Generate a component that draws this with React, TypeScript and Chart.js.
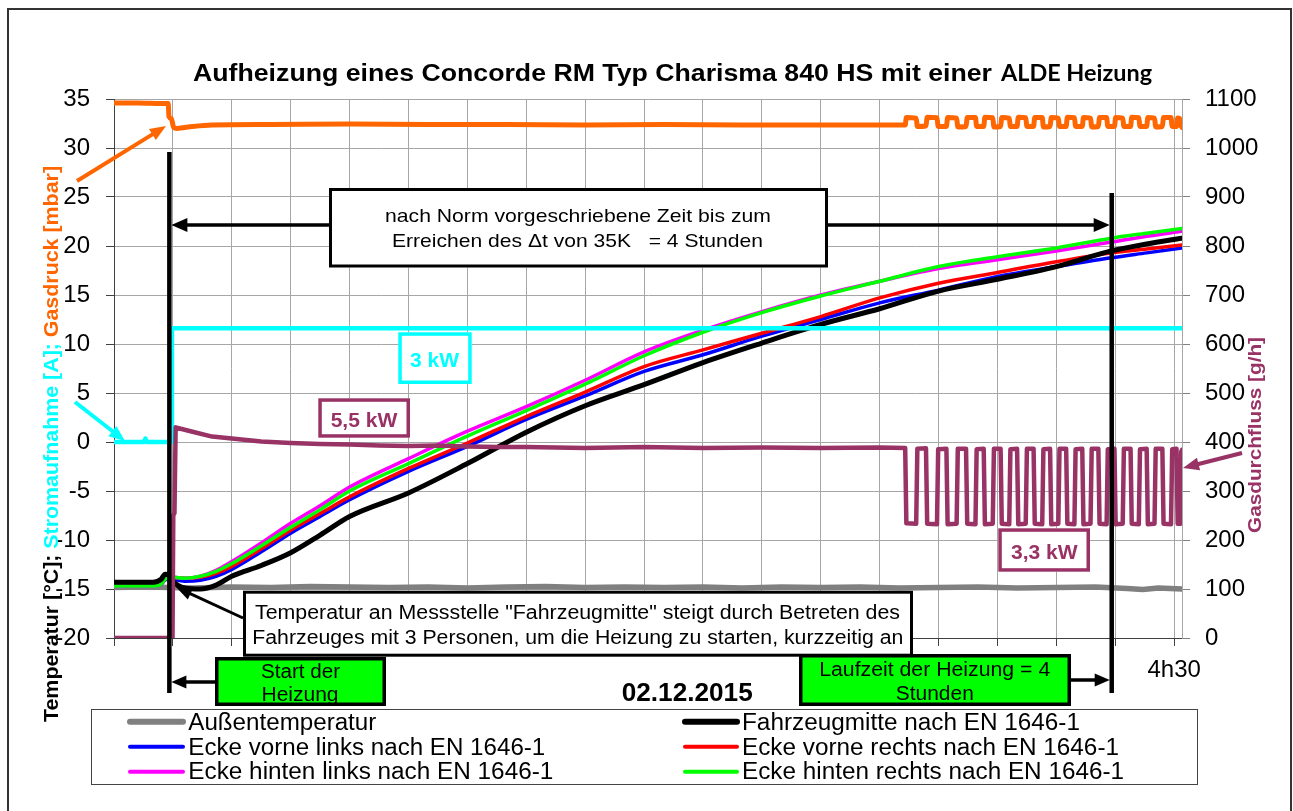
import React, { useEffect, useRef } from 'react';
import { Chart, registerables } from 'chart.js';

Chart.register(...registerables);

const FONT = '"Liberation Sans", Arial, Helvetica, sans-serif';

// ---------- axes ----------
const xMax = 272; // minutes
const xTickStep = 15;
const xTickLabels: Record<number, string> = { 270: '4h30' };
const yMin = -20;
const yMax = 35;
const yStep = 5;
const y1Max = 1100;
const y1Step = 100;
const heaterStart = 14.1;
const heaterEnd = 254.1;

// ---------- series names ----------
const seriesNames = [
  'Außentemperatur',
  'Fahrzeugmitte nach EN 1646-1',
  'Ecke vorne links nach EN 1646-1',
  'Ecke vorne rechts nach EN 1646-1',
  'Ecke hinten links nach EN 1646-1',
  'Ecke hinten rechts nach EN 1646-1',
];
const seriesColors = ['#808080', '#000000', '#0000FF', '#FF0000', '#FF00FF', '#00FF00'];

// ---------- temperatures [°C] ----------
const grayT = [0, 8, 14, 20, 30, 40, 50, 60, 70, 80, 90, 100, 110, 120, 130, 140, 150, 160, 170, 180, 190, 200, 210, 220, 230, 240, 250, 258, 262, 266, 272];
const grayV = [-14.85, -14.8, -14.85, -14.9, -14.8, -14.85, -14.75, -14.8, -14.85, -14.8, -14.9, -14.8, -14.75, -14.85, -14.8, -14.85, -14.8, -14.9, -14.8, -14.85, -14.8, -14.9, -14.85, -14.8, -14.9, -14.85, -14.8, -14.95, -15.05, -14.9, -15.0];

const tempT = [0, 10, 12, 13, 14, 15, 18, 22, 26, 30, 37.5, 45, 52.5, 60, 75, 90, 105, 120, 135, 150, 165, 180, 195, 210, 225, 240, 254, 263, 272];
const blackV = [-14.3, -14.3, -14.0, -13.5, -13.6, -14.2, -14.9, -15.0, -14.6, -13.7, -12.6, -11.3, -9.5, -7.6, -5.2, -2.2, 1.0, 3.7, 5.85, 8.1, 10.1, 12.0, 13.6, 15.4, 16.6, 17.9, 19.5, 20.2, 20.8];
const blueV = [-14.7, -14.7, -14.5, -14.1, -13.9, -14.0, -14.2, -14.1, -13.7, -13.0, -11.2, -9.3, -7.6, -5.9, -3.0, -0.45, 2.3, 4.7, 7.2, 8.9, 10.8, 12.5, 14.2, 15.5, 16.9, 17.9, 18.8, 19.3, 19.8];
const redV = [-14.6, -14.6, -14.4, -14.0, -13.8, -13.8, -13.9, -13.8, -13.4, -12.7, -10.9, -9.0, -7.3, -5.6, -2.7, -0.1, 2.6, 5.1, 7.7, 9.4, 11.1, 12.8, 14.7, 16.2, 17.3, 18.4, 19.3, 19.7, 20.1];
const magentaV = [-14.7, -14.7, -14.5, -14.0, -13.8, -13.8, -13.9, -13.7, -13.1, -12.2, -10.3, -8.3, -6.5, -4.6, -1.7, 1.1, 3.6, 6.3, 9.2, 11.4, 13.3, 15.0, 16.4, 17.7, 18.6, 19.5, 20.4, 21.0, 21.5];
const greenV = [-14.7, -14.7, -14.5, -14.0, -13.8, -13.8, -13.9, -13.7, -13.2, -12.4, -10.6, -8.7, -6.9, -5.0, -2.2, 0.6, 3.2, 5.9, 8.8, 11.2, 13.2, 14.9, 16.4, 17.9, 18.9, 19.8, 20.8, 21.3, 21.8];

// ---------- Stromaufnahme [A] ----------
const currentT = [0, 7.6, 8.0, 8.4, 14.6, 14.75, 272];
const currentV = [0, 0, 0.35, 0, 0, 11.6, 11.6];

// ---------- Gasdruck [mbar] ----------
const pressureT = [0, 6, 12, 13.8, 14.0, 14.6, 15.2, 16.0, 20, 25, 40, 60, 80, 100, 120, 140, 160, 180, 201.5,
  201.8, 204.3, 204.6, 206.8, 207.1, 209.6, 209.9, 212.0, 212.3, 214.6, 214.9, 217.0,
  217.3, 219.4, 219.7, 221.5, 221.8, 223.8, 224.1, 225.8, 226.1, 228.0, 228.3, 230.0,
  230.3, 232.2, 232.5, 234.2, 234.5, 236.4, 236.7, 238.4, 238.7, 240.5, 240.8, 242.5,
  242.8, 244.6, 244.9, 246.6, 246.9, 248.7, 249.0, 250.7, 251.0, 252.8, 253.1, 254.8,
  255.1, 256.9, 257.2, 258.9, 259.2, 261.0, 261.3, 263.0, 263.3, 265.0, 265.3, 267.0,
  267.3, 269.2, 269.5, 270.6, 270.9, 271.4, 271.7, 272];
const pressureV = [34.6, 34.6, 34.55, 34.55, 33.2, 33.0, 32.1, 32.0, 32.2, 32.35, 32.4, 32.45, 32.4, 32.4, 32.35, 32.4, 32.35, 32.35, 32.35,
  33.1, 33.05, 32.2, 32.25, 33.15, 33.1, 32.2, 32.2, 33.1, 33.05, 32.15, 32.2,
  33.1, 33.1, 32.2, 32.2, 33.15, 33.1, 32.15, 32.2, 33.1, 33.05, 32.2, 32.2,
  33.15, 33.1, 32.2, 32.2, 33.1, 33.1, 32.15, 32.2, 33.1, 33.05, 32.2, 32.2,
  33.15, 33.1, 32.2, 32.2, 33.1, 33.05, 32.15, 32.2, 33.1, 33.1, 32.2, 32.2,
  33.1, 33.05, 32.2, 32.2, 33.15, 33.1, 32.2, 32.2, 33.1, 33.05, 32.15, 32.2,
  33.1, 33.1, 32.2, 32.2, 33.05, 33.0, 32.3, 32.1];

// ---------- Gasdurchfluss [g/h] ----------
const flowT = [0, 14.9, 15.1, 15.4, 15.7, 17, 20, 25, 30, 37.5, 45, 52.5, 60, 67.5, 75, 82.5, 90, 97.5, 105, 112.5, 120, 135, 150, 165, 180, 195, 201.5,
  201.8, 204.3, 204.6, 206.8, 207.1, 209.6, 209.9, 212.0, 212.3, 214.6, 214.9, 217.0,
  217.3, 219.4, 219.7, 221.5, 221.8, 223.8, 224.1, 225.8, 226.1, 228.0, 228.3, 230.0,
  230.3, 232.2, 232.5, 234.2, 234.5, 236.4, 236.7, 238.4, 238.7, 240.5, 240.8, 242.5,
  242.8, 244.6, 244.9, 246.6, 246.9, 248.7, 249.0, 250.7, 251.0, 252.8, 253.1, 254.8,
  255.1, 256.9, 257.2, 258.9, 259.2, 261.0, 261.3, 263.0, 263.3, 265.0, 265.3, 267.0,
  267.3, 269.2, 269.5, 270.6, 270.9, 271.5, 271.8, 272];
const flowV = [0, 0, 250, 255, 430, 427, 421, 411, 407, 401, 398, 396, 395, 393, 392, 393, 391, 390, 390, 389, 388, 390, 388, 389, 388, 389, 388,
  234, 233, 386, 387, 233, 232, 385, 386, 232, 233, 386, 386,
  233, 232, 385, 386, 232, 233, 386, 386, 233, 232, 385, 386,
  232, 233, 386, 386, 233, 232, 385, 386, 232, 233, 386, 386,
  233, 232, 385, 386, 232, 233, 386, 386, 233, 232, 385, 386,
  232, 233, 386, 386, 233, 232, 385, 386, 232, 233, 386, 386,
  233, 232, 385, 386, 233, 233, 380, 384];

// ---------- texts ----------
const titleMain = 'Aufheizung eines Concorde RM Typ Charisma 840 HS mit einer';
const titleTail = 'ALDE Heizung';
const leftTitle: [string, string][] = [
  ['Temperatur [°C]; ', '#000000'],
  ['Stromaufnahme [A]; ', '#00FFFF'],
  ['Gasdruck [mbar]', '#FF6600'],
];
const rightTitle = 'Gasdurchfluss [g/h]';
const normText = ['nach Norm vorgeschriebene Zeit bis zum', 'Erreichen des Δt von 35K   = 4 Stunden'];
const noteText = [
  'Temperatur an Messstelle "Fahrzeugmitte" steigt durch Betreten des',
  'Fahrzeuges mit 3 Personen, um die Heizung zu starten, kurzzeitig an',
];
const startText = ['Start der', 'Heizung'];
const runText = ['Laufzeit der Heizung = 4', 'Stunden'];
const dateText = '02.12.2015';
const kw3 = '3 kW';
const kw55 = '5,5 kW';
const kw33 = '3,3 kW';

const CYAN = '#00FFFF';
const ORANGE = '#FF6600';
const PURPLE = '#993366';

const pts = (t: number[], v: number[]) => t.map((x, i) => ({ x, y: v[i] }));

type TOpts = { bold?: boolean; color?: string; align?: 'left' | 'center' | 'right'; width?: number; family?: string };

function drawText(ctx: CanvasRenderingContext2D, s: string, x: number, y: number, size: number, o: TOpts = {}) {
  ctx.save();
  ctx.font = `${o.bold ? 'bold ' : ''}${size}px ${o.family || FONT}`;
  ctx.fillStyle = o.color || '#000';
  ctx.textAlign = 'left';
  ctx.textBaseline = 'alphabetic';
  const w = ctx.measureText(s).width;
  const sx = o.width ? o.width / w : 1;
  const ww = w * sx;
  const left = o.align === 'center' ? x - ww / 2 : o.align === 'right' ? x - ww : x;
  ctx.translate(left, y);
  ctx.scale(sx, 1);
  ctx.fillText(s, 0, 0);
  ctx.restore();
}

function box(ctx: CanvasRenderingContext2D, L: number, T: number, R: number, B: number, lw: number, stroke: string, fill?: string) {
  ctx.save();
  if (fill) {
    ctx.fillStyle = fill;
    ctx.fillRect(L, T, R - L, B - T);
  }
  ctx.lineWidth = lw;
  ctx.strokeStyle = stroke;
  ctx.strokeRect(L + lw / 2, T + lw / 2, R - L - lw, B - T - lw);
  ctx.restore();
}

function arrow(ctx: CanvasRenderingContext2D, x1: number, y1: number, x2: number, y2: number, color: string, lw: number, hl = 16, hw = 13) {
  const a = Math.atan2(y2 - y1, x2 - x1);
  const bx = x2 - hl * Math.cos(a);
  const by = y2 - hl * Math.sin(a);
  ctx.save();
  ctx.strokeStyle = color;
  ctx.lineWidth = lw;
  ctx.beginPath();
  ctx.moveTo(x1, y1);
  ctx.lineTo(bx + Math.cos(a), by + Math.sin(a));
  ctx.stroke();
  ctx.fillStyle = color;
  ctx.beginPath();
  ctx.moveTo(x2, y2);
  ctx.lineTo(bx + (hw / 2) * Math.sin(a), by - (hw / 2) * Math.cos(a));
  ctx.lineTo(bx - (hw / 2) * Math.sin(a), by + (hw / 2) * Math.cos(a));
  ctx.closePath();
  ctx.fill();
  ctx.restore();
}

function rotatedSegments(ctx: CanvasRenderingContext2D, segs: [string, string][], cx: number, cy: number, size: number, width: number) {
  ctx.save();
  ctx.translate(cx, cy);
  ctx.rotate(-Math.PI / 2);
  ctx.font = `bold ${size}px ${FONT}`;
  ctx.textBaseline = 'alphabetic';
  ctx.textAlign = 'left';
  const total = segs.reduce((a, [s]) => a + ctx.measureText(s).width, 0);
  ctx.scale(width / total, 1);
  let x = -total / 2;
  for (const [s, c] of segs) {
    ctx.fillStyle = c;
    ctx.fillText(s, x, 0);
    x += ctx.measureText(s).width;
  }
  ctx.restore();
}

const legendTextWidths = [188, 338, 357, 377, 365, 382];
const legendLineWidths = [6, 6, 4, 4, 4, 4];

const annotations = {
  id: 'annotations',
  afterDatasetsDraw(chart: any) {
    const ctx: CanvasRenderingContext2D = chart.ctx;
    const xs = chart.scales.x;
    const xStart = xs.getPixelForValue(heaterStart);
    const xEnd = xs.getPixelForValue(heaterEnd);

    // double arrow: prescribed time
    arrow(ctx, 500, 225, xStart + 2, 225, '#000', 3.5, 16, 14);
    arrow(ctx, 700, 225, xEnd - 2, 225, '#000', 3.5, 16, 14);
    box(ctx, 329, 188, 828, 267.5, 3, '#000', '#fff');
    drawText(ctx, normText[0], 578, 222, 19, { align: 'center', width: 386 });
    drawText(ctx, normText[1], 577.5, 247, 19, { align: 'center', width: 371 });

    // kW boxes
    box(ctx, 398.3, 332.3, 471.7, 384, 3.5, CYAN, '#fff');
    drawText(ctx, kw3, 434.5, 366.7, 21, { bold: true, color: CYAN, align: 'center', width: 49 });
    box(ctx, 318.3, 398.3, 410, 437.7, 3.5, PURPLE, '#fff');
    drawText(ctx, kw55, 364, 426.7, 21, { bold: true, color: PURPLE, align: 'center', width: 66.7 });
    box(ctx, 998.3, 528.3, 1090, 571.7, 3.5, PURPLE, '#fff');
    drawText(ctx, kw33, 1044.3, 559, 21, { bold: true, color: PURPLE, align: 'center', width: 66.7 });

    // note box
    box(ctx, 243, 590.7, 913, 656.7, 3, '#000', '#fff');
    drawText(ctx, noteText[0], 577.5, 619.3, 20, { align: 'center', width: 645 });
    drawText(ctx, noteText[1], 577.8, 644, 20, { align: 'center', width: 651 });
    arrow(ctx, 243, 618, 176, 587, '#000', 3, 16, 13);

    // vertical lines
    ctx.save();
    ctx.strokeStyle = '#000';
    ctx.lineWidth = 4.5;
    ctx.beginPath();
    ctx.moveTo(xStart, 152);
    ctx.lineTo(xStart, 693);
    ctx.moveTo(xEnd, 193);
    ctx.lineTo(xEnd, 693);
    ctx.stroke();
    ctx.restore();

    // green boxes
    ctx.save();
    ctx.fillStyle = '#00FF00';
    ctx.fillRect(215, 657, 171, 49);
    ctx.fillRect(799, 654, 272, 52);
    ctx.restore();
    drawText(ctx, startText[0], 300.5, 677.7, 20, { align: 'center', width: 79 });
    drawText(ctx, startText[1], 300, 701, 20, { align: 'center', width: 77 });
    drawText(ctx, runText[0], 934.7, 675.7, 20, { align: 'center', width: 231 });
    drawText(ctx, runText[1], 934.8, 700, 20, { align: 'center', width: 78 });
    box(ctx, 215, 657, 386, 706, 3.5, '#000');
    box(ctx, 799, 654, 1071, 706, 3.5, '#000');
    arrow(ctx, 215, 682, xStart + 2, 682, '#000', 3.5, 15, 13);
    arrow(ctx, 1071, 680, xEnd - 2, 680, '#000', 3.5, 15, 13);

    // date
    drawText(ctx, dateText, 687.2, 701, 25, { bold: true, align: 'center', width: 131 });

    // colored arrows
    arrow(ctx, 77, 181, 166, 126, ORANGE, 4, 16, 13);
    arrow(ctx, 75, 402, 125, 441, CYAN, 4, 16, 13);
    arrow(ctx, 1242, 453, 1183, 468, PURPLE, 4, 16, 13);
  },
  afterDraw(chart: any) {
    const ctx: CanvasRenderingContext2D = chart.ctx;

    // legend
    ctx.save();
    ctx.strokeStyle = '#444';
    ctx.lineWidth = 1;
    ctx.strokeRect(91.5, 709.5, 1106, 75);
    ctx.restore();
    const colLine = [[130, 183], [685, 737]];
    const colText = [188.3, 742];
    const rowLineY = [721.7, 746.7, 771.7];
    const rowBase = [730, 755, 779];
    seriesNames.forEach((name, i) => {
      const col = i % 2;
      const row = Math.floor(i / 2);
      ctx.save();
      ctx.strokeStyle = seriesColors[i];
      ctx.lineWidth = legendLineWidths[i];
      ctx.lineCap = 'round';
      ctx.beginPath();
      ctx.moveTo(colLine[col][0], rowLineY[row]);
      ctx.lineTo(colLine[col][1], rowLineY[row]);
      ctx.stroke();
      ctx.restore();
      drawText(ctx, name, colText[col], rowBase[row], 23, { width: legendTextWidths[i] });
    });

    // title
    drawText(ctx, titleMain, 193, 81, 23, { bold: true, width: 799 });
    drawText(ctx, titleTail, 1001, 81, 22, { bold: true, width: 151, family: 'Lato, "Open Sans", sans-serif' });

    // axis titles
    rotatedSegments(ctx, leftTitle, 58, 444, 21, 556);
    rotatedSegments(ctx, [[rightTitle, PURPLE]], 1261, 435, 19, 196);

    // outer frame
    ctx.save();
    ctx.strokeStyle = '#333';
    ctx.lineWidth = 2;
    ctx.beginPath();
    ctx.moveTo(8, 811);
    ctx.lineTo(8, 9);
    ctx.lineTo(1291, 9);
    ctx.lineTo(1291, 811);
    ctx.stroke();
    ctx.restore();
  },
};

export default function App() {
  const ref = useRef<HTMLCanvasElement>(null);
  useEffect(() => {
    if (!ref.current) return;
    const mono = { cubicInterpolationMode: 'monotone' as const };
    const chart = new Chart(ref.current, {
      type: 'line',
      data: {
        datasets: [
          { label: seriesNames[0], data: pts(grayT, grayV), borderColor: seriesColors[0], borderWidth: 5.5, yAxisID: 'y', order: 10 },
          { label: seriesNames[1], data: pts(tempT, blackV), borderColor: seriesColors[1], borderWidth: 5, yAxisID: 'y', order: 4, ...mono },
          { label: seriesNames[2], data: pts(tempT, blueV), borderColor: seriesColors[2], borderWidth: 3.5, yAxisID: 'y', order: 8, ...mono },
          { label: seriesNames[3], data: pts(tempT, redV), borderColor: seriesColors[3], borderWidth: 3.5, yAxisID: 'y', order: 7, ...mono },
          { label: seriesNames[4], data: pts(tempT, magentaV), borderColor: seriesColors[4], borderWidth: 3.5, yAxisID: 'y', order: 6, ...mono },
          { label: seriesNames[5], data: pts(tempT, greenV), borderColor: seriesColors[5], borderWidth: 3.5, yAxisID: 'y', order: 5, ...mono },
          { label: 'Stromaufnahme [A]', data: pts(currentT, currentV), borderColor: CYAN, borderWidth: 4.5, yAxisID: 'y', order: 3 },
          { label: 'Gasdruck [mbar]', data: pts(pressureT, pressureV), borderColor: ORANGE, borderWidth: 5, yAxisID: 'y', order: 2, ...mono },
          { label: 'Gasdurchfluss [g/h]', data: pts(flowT, flowV), borderColor: PURPLE, borderWidth: 4.5, yAxisID: 'y1', order: 1 },
        ] as any,
      },
      options: {
        animation: false,
        responsive: false,
        devicePixelRatio: 1,
        events: [],
        layout: { padding: { top: 99, left: 0, right: 0, bottom: 0 } },
        elements: { point: { radius: 0 }, line: { borderJoinStyle: 'round', borderCapStyle: 'round', fill: false } },
        plugins: { legend: { display: false }, title: { display: false }, tooltip: { enabled: false } },
        scales: {
          x: {
            type: 'linear',
            min: 0,
            max: xMax,
            ticks: {
              stepSize: xTickStep,
              includeBounds: false,
              autoSkip: false,
              maxRotation: 0,
              padding: 10,
              color: '#000',
              font: { family: FONT, size: 24 },
              callback: (v: any) => xTickLabels[v as number] ?? '',
            },
            grid: { color: '#a6a6a6', lineWidth: 1, tickLength: 8, tickColor: '#404040' },
            border: { color: '#404040', width: 1 },
            afterFit: (s: any) => { s.height = 173; },
          },
          y: {
            position: 'left',
            min: yMin,
            max: yMax,
            ticks: { stepSize: yStep, padding: 16, color: '#000', font: { family: FONT, size: 24 }, callback: (v: any) => String(v) },
            grid: { color: '#a6a6a6', lineWidth: 1, tickLength: 8, tickColor: '#404040' },
            border: { color: '#404040', width: 1 },
            afterFit: (s: any) => { s.width = 114; },
          },
          y1: {
            position: 'right',
            min: 0,
            max: y1Max,
            ticks: { stepSize: y1Step, padding: 15, color: '#000', font: { family: FONT, size: 24 }, callback: (v: any) => String(v) },
            grid: { drawOnChartArea: false, tickLength: 8, tickColor: '#808080' },
            border: { color: '#a6a6a6', width: 1 },
            afterFit: (s: any) => { s.width = 111; },
          },
        },
      } as any,
      plugins: [annotations],
    });
    return () => chart.destroy();
  }, []);
  return (
    <div style={{ position: 'fixed', left: 0, top: 0, width: 1293, height: 811, background: '#fff' }}>
      <canvas ref={ref} width={1293} height={811} style={{ display: 'block' }} />
    </div>
  );
}
